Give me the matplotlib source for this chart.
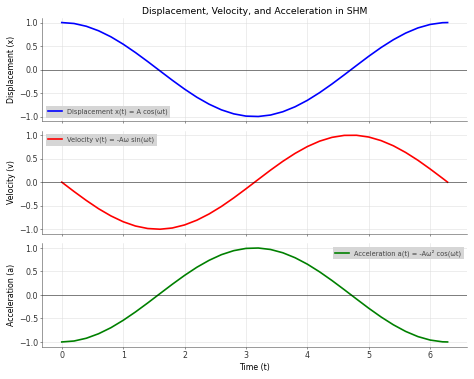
import matplotlib
matplotlib.use("Agg")
import matplotlib.pyplot as plt

# 时间点 (t)
t = [0.0, 0.2, 0.4, 0.6, 0.8, 1.0, 1.2, 1.4, 1.6, 1.8, 2.0, 2.2, 2.4, 2.6, 2.8, 3.0,
     3.2, 3.4, 3.6, 3.8, 4.0, 4.2, 4.4, 4.6, 4.8, 5.0, 5.2, 5.4, 5.6, 5.8, 6.0, 6.2, 6.283]

# 位移
displacement = [1.000, 0.980, 0.921, 0.825, 0.697, 0.540, 0.362, 0.170, -0.029, -0.227,
                -0.416, -0.589, -0.737, -0.857, -0.942, -0.990, -0.998, -0.967, -0.897,
                -0.791, -0.654, -0.490, -0.307, -0.112, 0.087, 0.284, 0.469, 0.635,
                0.776, 0.886, 0.960, 0.997, 1.000]

# 速度
velocity = [0.000, -0.199, -0.389, -0.565, -0.717, -0.841, -0.932, -0.985, -1.000, -0.974,
            -0.909, -0.808, -0.675, -0.516, -0.335, -0.141, 0.058, 0.256, 0.443, 0.612,
            0.757, 0.872, 0.952, 0.994, 0.996, 0.959, 0.883, 0.773, 0.631, 0.465,
            0.279, 0.083, 0.000]

# 加速度
acceleration = [-1.000, -0.980, -0.921, -0.825, -0.697, -0.540, -0.362, -0.170, 0.029, 0.227,
                0.416, 0.589, 0.737, 0.857, 0.942, 0.990, 0.998, 0.967, 0.897, 0.791,
                0.654, 0.490, 0.307, 0.112, -0.087, -0.284, -0.469, -0.635, -0.776,
                -0.886, -0.960, -0.997, -1.000]

series = [
    (displacement, 'blue', 'Displacement x(t) = A cos(ωt)', 'Displacement (x)', 'lower left'),
    (velocity, 'red', 'Velocity v(t) = -Aω sin(ωt)', 'Velocity (v)', 'upper left'),
    (acceleration, 'green', 'Acceleration a(t) = -Aω² cos(ωt)', 'Acceleration (a)', 'upper right'),
]

fig, axes = plt.subplots(3, 1, figsize=(10, 8), dpi=47.4, sharex=True)

for ax, (y, color, label, ylabel, loc) in zip(axes, series):
    ax.plot(t, y, color=color, linewidth=2.5, label=label)
    ax.axhline(0, color='black', linewidth=1, alpha=0.7)
    ax.set_ylabel(ylabel, fontsize=12)
    ax.grid(True, color='#dddddd', linewidth=0.8)
    ax.spines['top'].set_visible(False)
    ax.spines['right'].set_visible(False)
    ax.spines['left'].set_color('#444444')
    ax.spines['bottom'].set_color('#444444')
    ax.tick_params(labelsize=12, colors='#333333')
    ax.set_yticks([-1.0, -0.5, 0.0, 0.5, 1.0])
    leg = ax.legend(loc=loc, fontsize=10, frameon=True, fancybox=False)
    leg.get_frame().set_facecolor('#d6d6d6')
    leg.get_frame().set_edgecolor('none')
    leg.get_frame().set_alpha(1)
    for txt in leg.get_texts():
        txt.set_color('#444444')

axes[0].set_title('Displacement, Velocity, and Acceleration in SHM', fontsize=14)
axes[2].set_xlabel('Time (t)', fontsize=12)

plt.tight_layout()
plt.savefig('out.png', dpi=47.4)
